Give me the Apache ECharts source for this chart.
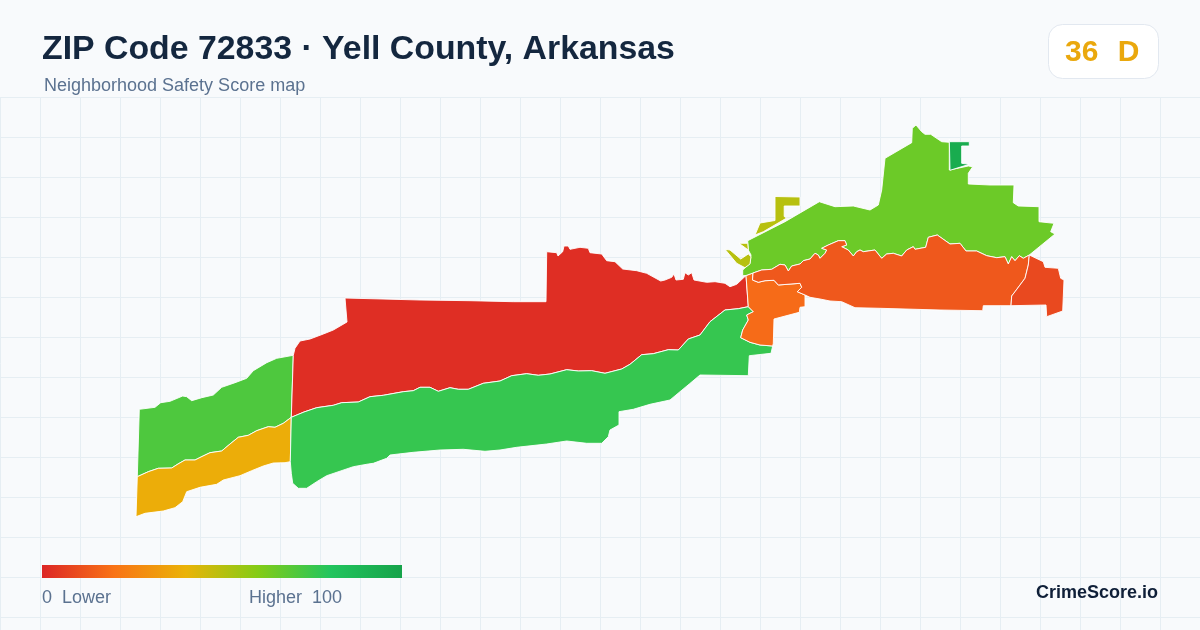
<!DOCTYPE html>
<html><head><meta charset="utf-8">
<style>html,body{margin:0;padding:0;background:#f8fafc}#c{width:1200px;height:630px}</style>
<script src="https://cdn.jsdelivr.net/npm/echarts@6/dist/echarts.min.js"></script>
</head><body><div id="c"></div>
<script>
// ---- Data ----
const titleText = "ZIP Code 72833 · Yell County, Arkansas";
const subtitleText = "Neighborhood Safety Score map";
const scoreValue = "36";
const scoreGrade = "D";
const brandText = "CrimeScore.io";
const legendLow = "0  Lower";
const legendHigh = "Higher  100";

const regionNames = ["West north","West south","Central north","Central south","Bluff","Ridge","River","East","Knob","Creek"];
const regionScores = [71, 38, 2, 76, 18, 65, 13, 9, 95, 50];
const scaleStops = ["#dc2626","#f97316","#eab308","#84cc16","#22c55e","#16a34a"];

// Boundary lines (map units), shared between neighbouring regions
const seamWestMid = [[293.3,355.3],[291.3,417.3]];
const seamWestLow = [[291.3,417.3],[290.3,461.7]];
const seamWest = [[137.3,476.7],[148.3,471.7],[158.3,468.3],[171.7,468],[178,464],[185,460],[195,460],[202,456.5],[210,452.7],[221.7,451],[230,444],[238.3,437.3],[248.3,435.3],[256.7,430.7],[268.3,426.7],[275,427.3],[283.3,423.3],[291.3,417.3]];
const seamCentral = [[291.3,417.3],[304,412],[316.7,407.7],[333.3,405.3],[341.7,402.7],[358.3,402],[370,396.7],[383.3,395.3],[403.3,391.7],[413.3,390.7],[420,387.3],[430,387.3],[438.3,391.3],[450,387.7],[458.3,389.3],[468.3,389.3],[483.3,383.3],[500,381],[511.7,375.7],[526.7,373.7],[538.3,375.3],[550,374],[566.7,369.7],[578.3,371],[591.7,370.7],[605,373.3],[621.7,369],[630,364.3],[641.7,354.7],[653.3,353.7],[668.3,349.7],[678.3,350],[688.3,339],[700,335],[710,321.7],[725,310],[738.3,308.7],[748.3,306.7]];
const seamBluffLow = [[748.3,306.7],[753.3,311.7],[746.7,315],[748.3,320],[742.7,330],[740.7,337.7],[750,342.3],[760,345],[772.7,346]];
const seamBluffWest = [[746,275.5],[748.3,306.7]];
const seamBluffTop = [[753,273],[752.5,280],[758.3,282.3],[765,280.7],[774,280.3],[778.3,285],[800,283.3],[801.7,287.3],[797.3,291.7],[805,295]];
const seamRidge = [[753,273],[761.7,270],[771.7,269.3],[780,264.3],[785,265],[788.3,271],[791.7,266],[800,264],[803.3,260.7],[810,259],[815,253.3],[818.3,255],[820,258.3],[825,253.3],[826.7,250],[821.7,248.3],[828.3,245],[838.3,240.7],[845,240.7],[846.7,245],[841.7,246.7],[848.3,250],[853.3,256],[856.7,251.7],[860,250],[863.3,251.7],[875,250],[881.7,258.3],[886.7,254],[893.3,253.3],[901.7,256],[906.7,250],[913.3,246.7],[915,249.3],[925.7,247.3],[928.3,237.3],[937.3,235],[950,244],[960,243.3],[966,251],[976.7,251],[986.7,255.7],[996.7,257.7],[1005,256.7],[1008.3,264],[1011.7,256.7],[1015,260.7],[1019.3,255.7],[1023.3,258.3],[1029.3,255]];
const seamEast = [[1029.3,255],[1028.3,265],[1025,278.3],[1015,291.7],[1011.7,296],[1011,305.7]];

// Outer edges (map units)
const edgeWestNorth = [[139.3,409.3],[155,407.3],[160.7,402.7],[170,401.3],[182.7,396],[186.7,396.7],[191.7,400.7],[201.7,397.7],[213.3,395],[221.7,387.3],[235,382.7],[246.7,378.3],[253.3,370.7],[266.7,362.7],[276.7,358.3],[293.3,355.3]];
const edgeWestSouth = [[290.3,461.7],[285,462.7],[273.3,463],[263.3,466],[251.7,470.7],[240,475.7],[223.3,480],[216.7,484.3],[200,487.3],[186.7,491.7],[182.7,501.7],[175,507.7],[163.3,511],[145,513.3],[136,516.7],[137.3,476.7]];
const edgeCentralNorth = [[293.3,355.3],[295,348.3],[300,341],[310,339],[323.3,334],[333.3,330],[347,322],[345,298],[420,300],[470,300.7],[513.3,301.7],[546,301.7],[546.7,251.7],[556.7,252.7],[558,256],[562.7,251.7],[564,246],[568.3,246],[570,249.3],[580,247.3],[588.3,248.3],[590,252.7],[601.7,254],[606.7,260.7],[615,261.7],[622.7,269],[636.7,270.7],[646.7,273.3],[660.7,281],[665,280],[671.7,277.3],[674,274],[676,280],[683.3,279.3],[685,272.7],[688.3,275],[691.7,272.7],[694,280],[706.7,282.3],[715,281.7],[725,283.3],[730,286.7],[736.7,284.3],[746,275.5]];
const edgeCentralSouth = [[772.7,346],[771,353.3],[749.3,355.7],[748.3,375.7],[700,375],[689.3,384],[680,391.7],[670,400],[650,404.3],[633.3,409.3],[619,411.7],[619,425],[610,430],[608.3,436.7],[601.7,443.3],[586.7,443.3],[566.7,441],[546.7,444],[516.7,447.3],[500,450],[485,451.3],[463.3,449.3],[440,450],[413.3,452.3],[390,455],[386.7,458.3],[373.3,463.3],[368.3,464],[353.3,466.7],[326.7,475.7],[316.7,481.7],[306.7,488.3],[298.3,488.3],[292.7,483.3],[291.3,473.3],[290.3,461.7]];
const edgeBluff = [[805,295],[805,306.7],[800,307.3],[799.3,312.3],[774,319],[773.3,343.3],[772.7,346]];
const edgeRidge = [[746,275.5],[742.7,275.7],[742.7,270],[750,263.3],[751,255],[748.3,250],[747.7,240.7],[785,221.7],[819.3,201.7],[835,206.7],[853.3,206],[870,210],[878.3,205],[881.7,190],[885,158.3],[911.7,142.7],[912.3,128.3],[916,125],[921.7,131.7],[925,134.3],[930.7,134.3],[941.7,141.7],[949.3,142.3],[949.3,170],[968.3,166],[972.7,166.7],[968.3,173.3],[968.3,184],[990,185],[1014,185],[1013.3,202.7],[1018.3,206],[1039,206.7],[1039,221.7],[1054,223.3],[1050.7,231.7],[1055,234],[1029.3,255]];
const edgeRiver = [[1011,305.7],[983.3,305.7],[982.7,310.7],[940,310],[880,308.3],[855,307.7],[841.7,301.7],[830,301],[820,299],[810,297.3],[805,295]];
const edgeEast = [[1029.3,255],[1043.3,261.7],[1045,267.3],[1058.3,268.3],[1060.7,278.3],[1064,280],[1062.7,311],[1046.7,316.7],[1046,305],[1011,305.7]];
const edgeKnob = [[949.3,139],[950,141.7],[969.3,141.7],[969.3,146],[961.7,146],[961.7,163.3],[969.3,164.3],[950,170.3]];
const edgeCreekA = [[775,196.5],[800,197],[800,206],[784.2,206],[784.2,216.5],[786.7,218],[763.3,231.7],[755,235],[760,223],[775,220.5]];
const edgeCreekB = [[739,243.3],[747.7,243.3],[748.3,250]];
const edgeCreekC = [[725,249.3],[730,250],[740.7,259],[748.3,254],[751,256.7],[750,264],[745,267.7],[736.7,263.3]];

// ---- Geometry assembled from the boundary lines ----
const rev = a => a.slice().reverse();
const join = (...parts) => parts.flat();
const regionRings = [
  [join(edgeWestNorth, seamWestMid, rev(seamWest))],
  [join(seamWest, seamWestLow, edgeWestSouth)],
  [join(edgeCentralNorth, seamBluffWest, rev(seamCentral), rev(seamWestMid))],
  [join(seamCentral, seamBluffLow, edgeCentralSouth, rev(seamWestLow))],
  [join(seamBluffWest.slice(0,1), seamBluffTop, edgeBluff, rev(seamBluffLow))],
  [join(edgeRidge, rev(seamRidge))],
  [join(seamRidge, seamEast, edgeRiver, rev(seamBluffTop))],
  [join(edgeEast, rev(seamEast))],
  [edgeKnob],
  [edgeCreekA, edgeCreekB, edgeCreekC]
];
const closeRing = r => r.concat([r[0]]);
const zipGeo = {
  type: "FeatureCollection",
  features: regionNames.map((name, i) => ({
    type: "Feature", properties: {name},
    geometry: {type: "MultiPolygon", coordinates: regionRings[i].map(r => [closeRing(r)])}
  }))
};
echarts.registerMap("zip72833", zipGeo);

const allPts = regionRings.flat(2);
const xs = allPts.map(p => p[0]), ys = allPts.map(p => p[1]);
const minX = Math.min(...xs), maxX = Math.max(...xs), minY = Math.min(...ys), maxY = Math.max(...ys);

const chart = echarts.init(document.getElementById("c"), null, {renderer: "canvas", width: 1200, height: 630});
const FF = '"Liberation Sans", Arial, sans-serif';
const gradient = new echarts.graphic.LinearGradient(0, 0, 1, 0,
  scaleStops.map((color, i) => ({offset: i / (scaleStops.length - 1), color})));
chart.setOption({
  animation: false,
  backgroundColor: "#f8fafc",
  grid: {left: 0, right: 0, top: 97, bottom: 0},
  xAxis: {type: "value", min: 0, max: 1200, interval: 40, axisLine: {show: false}, axisTick: {show: false}, axisLabel: {show: false}, splitLine: {show: true, lineStyle: {color: "#e6eef3", width: 1}}},
  yAxis: {type: "value", inverse: true, min: 0, max: 533, interval: 40, axisLine: {show: false}, axisTick: {show: false}, axisLabel: {show: false}, splitLine: {show: true, lineStyle: {color: "#e6eef3", width: 1}}},
  visualMap: {
    type: "continuous", show: false, seriesIndex: 0, min: 0, max: 100,
    inRange: {color: scaleStops}
  },
  series: [{
    type: "map", map: "zip72833", silent: true, roam: false, aspectScale: 1,
    projection: {project: p => p, unproject: p => p},
    left: minX, top: minY, width: maxX - minX, height: maxY - minY,
    label: {show: false},
    itemStyle: {borderColor: "#ffffff", borderWidth: 0.9},
    emphasis: {disabled: true},
    data: regionNames.map((name, i) => ({name, value: regionScores[i]}))
  }],
  graphic: [
    {type: "text", z: 100, silent: true, style: {text: titleText, x: 42, y: 50, verticalAlign: "middle", font: `bold 33.85px ${FF}`, fill: "#14273f"}},
    {type: "text", z: 100, silent: true, style: {text: subtitleText, x: 44, y: 86, verticalAlign: "middle", font: `18px ${FF}`, fill: "#5b7290"}},
    {type: "rect", z: 100, silent: true, shape: {x: 1048.5, y: 24.5, width: 110, height: 54, r: 14}, style: {fill: "#ffffff", stroke: "#e2e8f0", lineWidth: 1}},
    {type: "text", z: 101, silent: true, style: {text: scoreValue, x: 1065, y: 53, verticalAlign: "middle", font: `bold 30px ${FF}`, fill: "#eaa80d"}},
    {type: "text", z: 101, silent: true, style: {text: scoreGrade, x: 1117.7, y: 53, verticalAlign: "middle", font: `bold 30px ${FF}`, fill: "#eaa80d"}},
    {type: "rect", z: 100, silent: true, shape: {x: 42, y: 565, width: 360, height: 13}, style: {fill: gradient}},
    {type: "text", z: 100, silent: true, style: {text: legendLow, x: 42, y: 598, verticalAlign: "middle", font: `18px ${FF}`, fill: "#5b7290"}},
    {type: "text", z: 100, silent: true, style: {text: legendHigh, x: 249, y: 598, verticalAlign: "middle", font: `18px ${FF}`, fill: "#5b7290"}},
    {type: "text", z: 100, silent: true, style: {text: brandText, x: 1158, y: 593, align: "right", verticalAlign: "middle", font: `bold 18px ${FF}`, fill: "#0f1f38"}}
  ]
});
</script></body></html>
